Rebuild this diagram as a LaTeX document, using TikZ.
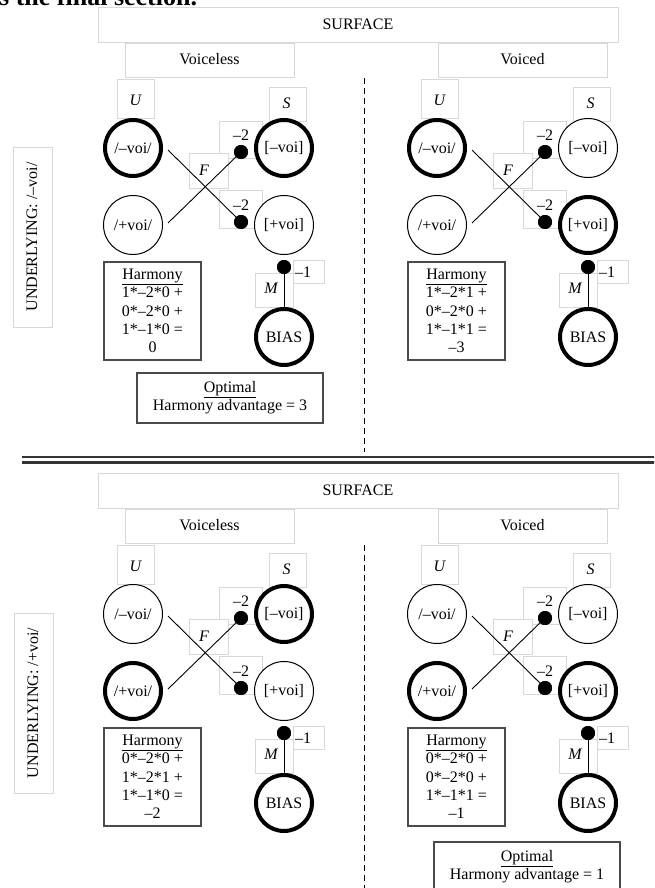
\documentclass[tikz,border=0pt]{standalone}
\usepackage{fontspec}
\setmainfont{Liberation Serif}
\definecolor{lblgray}{HTML}{D8D8D8}
\definecolor{boxgray}{HTML}{4A4A4A}

% One network panel: #1 name prefix, #2/#3 shift, #4-#7 styles of the four units,
% #8 harmony computation lines
\newcommand\votepanel[8]{%
\begin{scope}[shift={(#2,#3)}]
  % light text frames behind the labels
  \draw[lbl] (-16,79) rectangle (21,118);
  \draw[lbl] (136,87) rectangle (173,121);
  \draw[lbl] (86,121) rectangle (129,158);
  \draw[lbl] (56,153) rectangle (95,188);
  \draw[lbl] (86,190) rectangle (129,228);
  \draw[lbl] (160,260) rectangle (191,283);
  \draw[lbl] (122,273) rectangle (160,307);
  \node[ital] (#1lu) at (2.5,100) {U};
  \node[ital] (#1ls) at (153.5,103) {S};
  \node (#1wa) at (108,135) {–2};
  \node[ital] (#1lf) at (71,170) {F};
  \node (#1wb) at (108,205) {–2};
  \node[ital] (#1lm) at (138,288) {M};
  \node (#1wc) at (170,272) {–1};
  % units
  \node[unit,#4] (#1um) at (0,148) {/–voi/};
  \node[unit,#5] (#1up) at (0,225) {/+voi/};
  \node[unit,#6] (#1sm) at (151,148) {[–voi]};
  \node[unit,#7] (#1sp) at (151,225) {[+voi]};
  \node[unit,on] (#1b) at (151,337) {BIAS};
  % faithfulness connections
  \node[dot] (#1dhi) at (108,152) {};
  \node[dot] (#1dlo) at (108,222) {};
  \draw[conn] ([shift={(5pt,-2pt)}]#1um.east) -- (#1dlo.center);
  \draw[conn] ([shift={(5pt,2pt)}]#1up.east) -- (#1dhi.center);
  \node[dot] at (#1dhi) {};
  \node[dot] at (#1dlo) {};
  % markedness connection
  \node[dot] (#1dm) at (151,267) {};
  \draw[conn] (#1dm.center) -- (#1b.north);
  \node[dot] at (#1dm) {};
  % harmony box
  \node[infobox, minimum width=97pt, minimum height=98pt] (#1h) at (19.5,311)
    {\underline{Harmony}\\#8};
\end{scope}}

\begin{document}
\begin{tikzpicture}[x=1pt,y=-1pt,
  every node/.style={font=\fontsize{16}{18.3}\selectfont, inner sep=1pt},
  ital/.style={font=\fontsize{16}{18.3}\selectfont\itshape},
  lbl/.style={draw=lblgray, fill=white, line width=0.8pt},
  unit/.style={circle, draw=black, fill=white, minimum size=59pt, inner sep=0pt, line width=1pt},
  on/.style={line width=4pt, minimum size=56pt},
  dot/.style={circle, fill=black, minimum size=14pt, inner sep=0pt},
  conn/.style={line width=0.9pt},
  infobox/.style={draw=boxgray, line width=1.2pt, fill=white, align=center, inner sep=2pt},
  rule/.style={line width=2.6pt, draw=black!80},
  divider/.style={dashed, line width=1pt, dash pattern=on 6pt off 4pt},
  ]
\useasboundingbox (0,0) rectangle (654,888);
\clip (0,0) rectangle (654,888);

% tail of the sentence above the figure
\node[anchor=base west, inner sep=0, font=\bfseries\fontsize{26}{26}\selectfont] (tail) at (-1,6) {s the final section.};

% ---------- upper half: underlying /-voi/ ----------
\draw[lbl] (98,7) rectangle (618,42);
\node (surf1) at (358,24) {SURFACE};
\draw[lbl] (125,43) rectangle (294,77);
\node (vl1) at (209.5,59) {Voiceless};
\draw[lbl] (438,43) rectangle (607,77);
\node (vd1) at (522.5,59) {Voiced};
\draw[lbl] (13,147) rectangle (52,327);
\node[rotate=90] (und1) at (32,237) {UNDERLYING: /–voi/};

\coordinate (cut1a) at (364,78);
\coordinate (cut1b) at (364,452);
\draw[divider] (cut1a) -- (cut1b);

\votepanel{a}{133}{0}{on}{}{on}{}{1*–2*0 +\\0*–2*0 +\\1*–1*0 =\\0}
\votepanel{b}{437}{0}{on}{}{}{on}{1*–2*1 +\\0*–2*0 +\\1*–1*1 =\\–3}

\node[infobox, minimum width=186pt, minimum height=50pt] (opt1) at (230,398)
  {\underline{Optimal}\\Harmony advantage = 3};

% ---------- double rule ----------
\coordinate (r1a) at (22,457);
\coordinate (r1b) at (660,457);
\coordinate (r2a) at (22,462.5);
\coordinate (r2b) at (660,462.5);
\draw[rule] (r1a) -- (r1b);
\draw[rule, line width=2.2pt] (r2a) -- (r2b);

% ---------- lower half: underlying /+voi/ ----------
\draw[lbl] (98,473) rectangle (618,508);
\node (surf2) at (358,490) {SURFACE};
\draw[lbl] (125,509) rectangle (294,543);
\node (vl2) at (209.5,525) {Voiceless};
\draw[lbl] (438,509) rectangle (607,543);
\node (vd2) at (522.5,525) {Voiced};
\draw[lbl] (14,613) rectangle (53,793);
\node[rotate=90] (und2) at (33,703) {UNDERLYING: /+voi/};

\coordinate (cut2a) at (364,545);
\coordinate (cut2b) at (364,890);
\draw[divider] (cut2a) -- (cut2b);

\votepanel{c}{133}{466}{}{on}{on}{}{0*–2*0 +\\1*–2*1 +\\1*–1*0 =\\–2}
\votepanel{d}{437}{466}{}{on}{}{on}{0*–2*0 +\\0*–2*0 +\\1*–1*1 =\\–1}

\node[infobox, minimum width=186pt, minimum height=50pt] (opt2) at (527,867)
  {\underline{Optimal}\\Harmony advantage = 1};
\end{tikzpicture}
\end{document}
